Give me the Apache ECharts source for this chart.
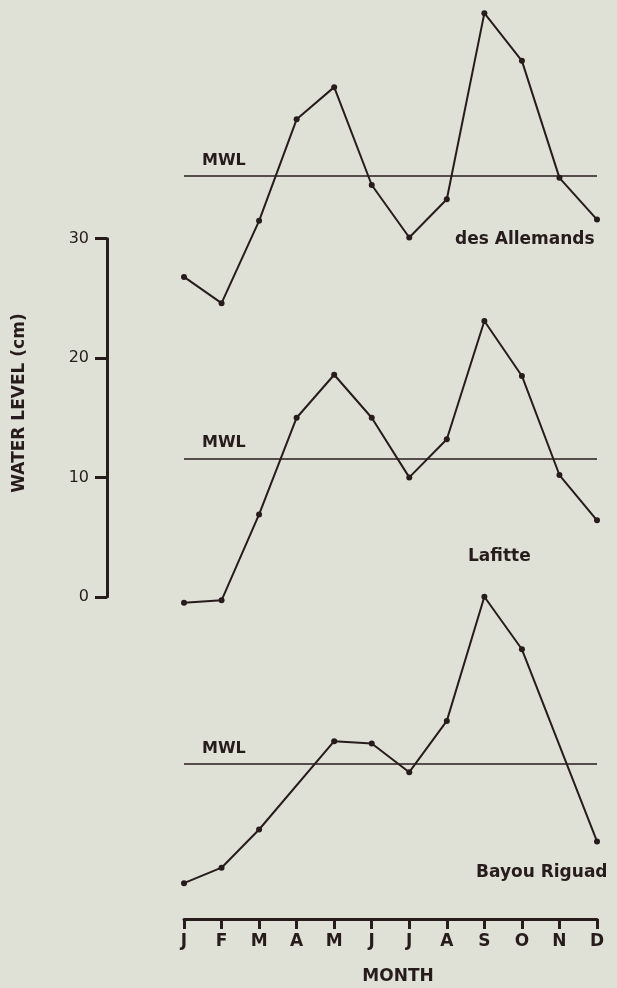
<!DOCTYPE html>
<html>
<head>
<meta charset="utf-8">
<script src="https://cdn.jsdelivr.net/npm/echarts@6/dist/echarts.min.js"></script>
<style>
html,body{margin:0;padding:0;background:#dfe0d6;}
#chart{width:617px;height:988px;}
</style>
</head>
<body>
<div id="chart"></div>
<script>
// ---- data ----
const months = ['J','F','M','A','M','J','J','A','S','O','N','D'];
const desAllemands = [26.8, 24.6, 31.5, 40.0, 42.7, 34.5, 30.1, 33.3, 48.9, 44.9, 35.1, 31.6];
const lafitte      = [-0.5, -0.3, 6.9, 15.0, 18.6, 15.0, 10.0, 13.2, 23.1, 18.5, 10.2, 6.4];
const bayouRiguad  = [-24.0, -22.7, -19.5, null, -12.1, -12.3, -14.7, -10.4, 0.0, -4.4, null, -20.5];
const seriesNames  = ['des Allemands', 'Lafitte', 'Bayou Riguad'];
const mwlLevels    = [35.3, 11.6, -14.0];
const yTickValues  = [0, 10, 20, 30];

const INK = '#261c1c';
const FONT = '"DejaVu Sans", "Liberation Sans", sans-serif';

const chart = echarts.init(document.getElementById('chart'), null, {renderer: 'canvas'});

function lineSeries(name, data, mwl) {
  return {
    name: name,
    type: 'line',
    xAxisIndex: 0,
    yAxisIndex: 0,
    data: data,
    connectNulls: true,
    symbol: 'circle',
    symbolSize: 6,
    showAllSymbol: true,
    lineStyle: {color: INK, width: 2},
    itemStyle: {color: INK},
    emphasis: {disabled: true},
    animation: false,
    markLine: {
      silent: true,
      symbol: ['none', 'none'],
      label: {show: false},
      lineStyle: {color: INK, width: 1.5, type: 'solid'},
      data: [{yAxis: mwl}],
      animation: false
    }
  };
}

const option = {
  backgroundColor: '#dfe0d6',
  animation: false,
  grid: [
    {left: 184, right: 20, top: 0, bottom: 69},
    {left: 107, top: 238.7, height: 358.1, width: 10}
  ],
  xAxis: [
    {
      gridIndex: 0,
      type: 'category',
      data: months,
      boundaryGap: false,
      axisLine: {show: true, onZero: false, lineStyle: {color: INK, width: 3}},
      axisTick: {show: true, inside: false, length: 10, lineStyle: {color: INK, width: 3}},
      axisLabel: {color: INK, fontSize: 17, fontWeight: 'bold', fontFamily: FONT, margin: 14, interval: 0},
      splitLine: {show: false}
    },
    {gridIndex: 1, type: 'value', show: false}
  ],
  yAxis: [
    {gridIndex: 0, type: 'value', min: -27, max: 50, show: false},
    {
      gridIndex: 1,
      type: 'value',
      min: yTickValues[0],
      max: yTickValues[yTickValues.length - 1],
      interval: yTickValues[1] - yTickValues[0],
      axisLine: {show: true, onZero: false, lineStyle: {color: INK, width: 3}},
      axisTick: {show: true, inside: false, length: 12, lineStyle: {color: INK, width: 3}},
      axisLabel: {color: INK, fontSize: 16, fontFamily: FONT, margin: 18},
      splitLine: {show: false}
    }
  ],
  series: [
    lineSeries(seriesNames[0], desAllemands, mwlLevels[0]),
    lineSeries(seriesNames[1], lafitte, mwlLevels[1]),
    lineSeries(seriesNames[2], bayouRiguad, mwlLevels[2])
  ]
};

chart.setOption(option);

function txt(x, y, text, size, align, extra) {
  return Object.assign({
    type: 'text',
    x: x, y: y,
    silent: true,
    style: {
      text: text,
      fill: INK,
      font: 'bold ' + size + 'px ' + FONT,
      textAlign: align || 'left',
      align: align || 'left',
      textVerticalAlign: 'middle',
      verticalAlign: 'middle'
    }
  }, extra || {});
}

const graphics = [];
// MWL labels placed relative to their lines
mwlLevels.forEach(function (m) {
  const p = chart.convertToPixel({gridIndex: 0}, [0, m]);
  graphics.push(txt(p[0] + 18, p[1] - 15, 'MWL', 16, 'left'));
});
// station labels
graphics.push(txt(455, 240, seriesNames[0], 17, 'left'));
graphics.push(txt(468, 557, seriesNames[1], 17, 'left'));
graphics.push(txt(476, 873, seriesNames[2], 17, 'left'));
// axis titles
graphics.push(txt(398, 977, 'MONTH', 17, 'center'));
graphics.push(txt(20, 403, 'WATER LEVEL (cm)', 17, 'center', {rotation: Math.PI / 2}));

chart.setOption({graphic: {elements: graphics}});
</script>
</body>
</html>
